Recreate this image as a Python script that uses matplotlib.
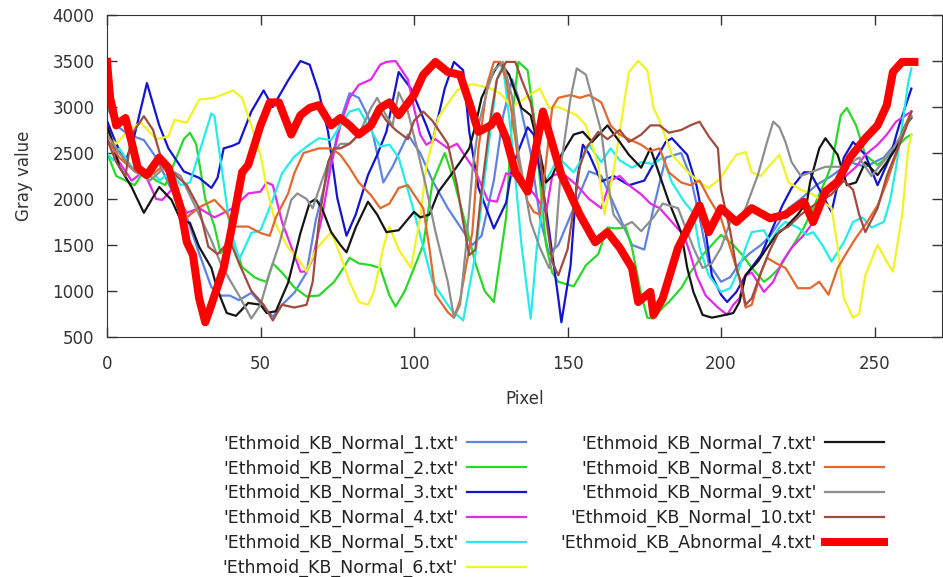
import matplotlib.pyplot as plt

# pixel profiles (x = pixel, y = gray value)
n1_x = [0, 3, 7, 12, 16, 21, 26, 30, 34, 37, 40, 43, 47, 51, 54, 57, 61, 65, 68, 72, 74, 76, 79, 82, 85, 87, 90, 93, 98, 102, 106, 111, 115, 119, 122, 126, 129, 132, 134, 138, 141, 144, 147, 152, 157, 161, 165, 169, 171, 175, 178, 182, 187, 190, 193, 196, 200, 203, 206, 209, 213, 216, 219, 222, 226, 231, 236, 242, 247, 253, 258, 262]
n1_y = [3000, 2800, 2700, 2640, 2450, 2100, 1800, 1410, 1040, 950, 950, 900, 980, 830, 720, 850, 980, 1200, 1770, 2300, 2550, 2850, 3150, 3100, 2900, 2650, 2180, 2350, 2700, 2500, 2200, 1900, 1700, 1500, 1600, 2200, 2900, 3300, 3100, 2500, 1800, 1400, 1500, 1900, 2300, 2250, 1950, 1650, 1500, 1450, 1900, 2450, 2500, 2250, 1800, 1300, 1100, 1150, 1300, 1400, 1500, 1600, 1750, 1900, 2000, 2150, 2250, 2400, 2350, 2450, 2650, 2900]

n2_x = [0, 3, 6, 9, 12, 16, 19, 22, 25, 27, 29, 32, 35, 37, 39, 41, 44, 48, 50, 52, 54, 57, 61, 65, 69, 74, 77, 79, 82, 86, 89, 92, 94, 97, 100, 103, 106, 110, 113, 117, 120, 123, 126, 130, 132, 134, 137, 139, 141, 143, 145, 147, 152, 156, 160, 163, 166, 169, 171, 174, 176, 178, 181, 183, 187, 190, 194, 197, 200, 204, 207, 210, 214, 216, 219, 223, 227, 230, 234, 236, 239, 241, 244, 247, 251, 254, 257, 260, 262]
n2_y = [2500, 2250, 2200, 2150, 2300, 2200, 2150, 2400, 2650, 2720, 2600, 2000, 1700, 1410, 1500, 1550, 1260, 1150, 1120, 1100, 1300, 1200, 1040, 940, 950, 1100, 1250, 1360, 1300, 1280, 1250, 950, 830, 1000, 1250, 1500, 2180, 2500, 2200, 1700, 1300, 1000, 880, 1800, 2900, 3490, 3400, 2910, 2200, 1500, 1200, 1100, 1050, 1280, 1400, 1690, 1680, 1690, 1470, 960, 710, 700, 820, 880, 1030, 1200, 1390, 1500, 1610, 1500, 1390, 1250, 1100, 1150, 1250, 1470, 1690, 1900, 2200, 2370, 2910, 2990, 2800, 2480, 2370, 2450, 2550, 2660, 2700]

n3_x = [0, 3, 6, 9, 13, 17, 20, 23, 25, 30, 34, 36, 38, 41, 43, 47, 51, 54, 59, 63, 66, 69, 72, 75, 78, 81, 85, 88, 91, 95, 99, 104, 106, 110, 113, 116, 118, 121, 126, 130, 132, 137, 139, 143, 147, 148, 151, 153, 155, 157, 161, 165, 170, 175, 182, 184, 189, 192, 195, 197, 200, 202, 205, 208, 213, 220, 223, 227, 229, 236, 240, 243, 247, 251, 255, 258, 262]
n3_y = [2850, 2600, 2400, 2700, 3260, 2800, 2550, 2400, 2300, 2230, 2120, 2230, 2550, 2580, 2610, 2950, 3180, 3000, 3290, 3500, 3460, 3160, 2730, 2010, 1600, 1830, 2260, 2480, 2730, 3380, 3200, 2800, 2620, 3200, 3490, 3400, 2730, 2120, 1680, 1960, 2350, 2780, 2700, 1900, 920, 660, 1280, 2180, 2590, 2490, 2190, 2250, 2150, 2200, 2620, 2660, 2480, 2150, 1640, 1170, 960, 880, 990, 1170, 1390, 1930, 2120, 2290, 2290, 1860, 2450, 2620, 2480, 2150, 2450, 2800, 3200]

n4_x = [0, 3, 8, 12, 16, 18, 21, 26, 30, 35, 41, 46, 50, 52, 54, 57, 61, 63, 65, 67, 70, 73, 76, 79, 82, 86, 89, 91, 94, 98, 100, 102, 104, 107, 111, 114, 117, 120, 124, 127, 130, 134, 139, 141, 143, 145, 148, 153, 157, 161, 164, 167, 170, 174, 177, 180, 184, 188, 190, 192, 195, 199, 202, 204, 206, 208, 210, 214, 217, 220, 223, 227, 229, 232, 236, 241, 244, 247, 251, 254, 257, 262]
n4_y = [2800, 2450, 2200, 2300, 2000, 1990, 2100, 1850, 1900, 1800, 1900, 2060, 2080, 2180, 2150, 1750, 1390, 1210, 1210, 1350, 1800, 2370, 2800, 3100, 3240, 3300, 3460, 3490, 3500, 3300, 2990, 2700, 2590, 2650, 2550, 2600, 2450, 2300, 1990, 1970, 2280, 2230, 2060, 1960, 1850, 2250, 2290, 2150, 2000, 1900, 2200, 2250, 2150, 2050, 1950, 1900, 1750, 1600, 1400, 1170, 950, 820, 740, 850, 920, 1170, 1200, 990, 1100, 1320, 1470, 1610, 1700, 1900, 2120, 2260, 2350, 2480, 2590, 2700, 2840, 2950]

n5_x = [0, 2, 4, 8, 11, 14, 17, 21, 24, 27, 30, 34, 35, 37, 40, 43, 47, 50, 54, 57, 61, 65, 69, 73, 76, 79, 82, 85, 89, 92, 95, 100, 106, 112, 116, 120, 124, 127, 129, 132, 135, 138, 140, 143, 147, 152, 155, 157, 161, 164, 167, 171, 174, 178, 181, 184, 188, 191, 193, 196, 200, 203, 206, 208, 210, 214, 216, 219, 221, 225, 228, 230, 233, 236, 240, 243, 246, 249, 253, 255, 257, 259, 261, 262]
n5_y = [2500, 2420, 2550, 2350, 2250, 2350, 2200, 2300, 2150, 2180, 2500, 2930, 2900, 2420, 1700, 1340, 1630, 1660, 1990, 2280, 2460, 2570, 2660, 2640, 2800, 2950, 2980, 2800, 2570, 2590, 2450, 1860, 1100, 800, 680, 1400, 2500, 3300, 3450, 2600, 1500, 700, 1470, 2200, 2450, 2290, 2450, 2590, 2400, 2550, 2420, 2340, 2400, 2380, 2450, 2180, 1970, 1850, 1470, 1170, 990, 1030, 1250, 1470, 1640, 1660, 1530, 1690, 1750, 1690, 1610, 1640, 1500, 1320, 1530, 1750, 1800, 1690, 1750, 1970, 2340, 2800, 3270, 3420]

n6_x = [0, 3, 7, 11, 16, 20, 22, 26, 30, 35, 41, 44, 47, 50, 52, 55, 59, 62, 65, 68, 73, 76, 79, 82, 85, 87, 90, 92, 95, 99, 102, 104, 108, 114, 119, 125, 128, 132, 139, 141, 144, 147, 153, 156, 160, 162, 165, 167, 170, 173, 176, 178, 180, 184, 189, 193, 196, 200, 202, 205, 208, 210, 213, 216, 219, 222, 226, 230, 236, 238, 240, 243, 245, 247, 251, 254, 256, 259, 261, 262]
n6_y = [2700, 2600, 2750, 2830, 2650, 2680, 2860, 2830, 3080, 3100, 3180, 3100, 2800, 2480, 2120, 1720, 1470, 1360, 1210, 1450, 1640, 1390, 1100, 880, 850, 1000, 1470, 1700, 1450, 1250, 1800, 2350, 2890, 3180, 3250, 3200, 3150, 3000, 3160, 3200, 2990, 3000, 2910, 2800, 2370, 1830, 2300, 2730, 3380, 3500, 3400, 2990, 2850, 2480, 2300, 2180, 2120, 2230, 2340, 2480, 2510, 2290, 2250, 2370, 2480, 2180, 2100, 2050, 1900, 1470, 920, 710, 750, 1170, 1500, 1320, 1210, 1830, 2550, 2700]

n7_x = [0, 2, 4, 8, 12, 15, 17, 21, 24, 27, 30, 34, 36, 39, 42, 46, 50, 52, 55, 59, 63, 66, 68, 70, 73, 76, 78, 81, 85, 88, 91, 95, 100, 102, 105, 108, 112, 115, 118, 120, 122, 126, 128, 131, 133, 135, 138, 141, 143, 145, 148, 152, 155, 158, 163, 167, 170, 174, 177, 180, 183, 187, 189, 191, 194, 197, 200, 204, 206, 208, 212, 215, 218, 221, 225, 228, 229, 232, 234, 238, 241, 244, 247, 251, 254, 257, 260, 262]
n7_y = [2800, 2600, 2350, 2130, 1850, 2020, 2130, 1990, 1770, 1740, 1480, 1250, 1010, 760, 730, 870, 850, 760, 780, 1090, 1630, 1960, 2000, 1900, 1640, 1500, 1420, 1690, 1970, 1830, 1640, 1660, 1860, 1800, 1830, 2080, 2260, 2400, 2550, 2800, 3100, 3380, 3490, 3350, 3160, 2990, 2910, 2500, 2180, 2250, 2480, 2700, 2730, 2620, 2800, 2620, 2480, 2340, 2550, 2260, 1970, 1640, 1250, 990, 740, 710, 730, 760, 880, 1170, 1320, 1470, 1610, 1690, 1830, 1970, 2180, 2550, 2660, 2480, 2150, 2180, 2400, 2260, 2400, 2550, 2800, 2880]

n8_x = [0, 4, 9, 14, 18, 22, 26, 30, 35, 39, 41, 46, 50, 53, 55, 59, 61, 64, 69, 73, 76, 79, 82, 86, 89, 92, 95, 98, 101, 103, 105, 107, 111, 113, 115, 117, 119, 121, 124, 126, 128, 130, 132, 134, 137, 139, 141, 143, 145, 147, 151, 154, 157, 161, 164, 167, 170, 174, 177, 180, 183, 187, 190, 193, 196, 200, 203, 206, 208, 210, 213, 215, 218, 221, 225, 229, 232, 235, 238, 241, 244, 247, 251, 254, 257, 260, 262]
n8_y = [2650, 2450, 2300, 2250, 2350, 2200, 1800, 1910, 1990, 1850, 1700, 1700, 1630, 1600, 1800, 2060, 2280, 2500, 2550, 2550, 2480, 2340, 2180, 2040, 1900, 1950, 2120, 2150, 2000, 1900, 1470, 960, 770, 710, 900, 1280, 1640, 2550, 3270, 3490, 3490, 3300, 2900, 2400, 1970, 1860, 1830, 2400, 2990, 3100, 3130, 3100, 3130, 3050, 2800, 2700, 2650, 2590, 2520, 2550, 2290, 2180, 2150, 2200, 2010, 1790, 1470, 1140, 820, 850, 1200, 1360, 1300, 1250, 1030, 1030, 1100, 960, 1250, 1420, 1580, 1720, 1930, 2180, 2480, 2800, 2950]

n9_x = [0, 4, 9, 14, 19, 24, 29, 34, 37, 40, 43, 47, 50, 53, 56, 60, 62, 65, 67, 70, 73, 76, 79, 82, 86, 88, 91, 93, 95, 98, 101, 104, 107, 111, 113, 115, 117, 119, 121, 124, 126, 129, 132, 134, 138, 141, 144, 146, 148, 151, 153, 156, 158, 161, 163, 165, 168, 171, 174, 178, 181, 186, 191, 194, 197, 200, 203, 206, 208, 212, 215, 217, 219, 221, 223, 226, 230, 234, 240, 245, 249, 254, 258, 262]
n9_y = [2700, 2500, 2300, 2200, 2350, 2250, 1900, 1550, 1300, 1120, 950, 700, 850, 1200, 1500, 1990, 2060, 2000, 1900, 2200, 2480, 2600, 2600, 2700, 2990, 3100, 2900, 2800, 3160, 2950, 2550, 2120, 1640, 1100, 710, 850, 1500, 2300, 2800, 3200, 3400, 3490, 3100, 2500, 1750, 1470, 1250, 1500, 2400, 3100, 3420, 3350, 3100, 2730, 2200, 1830, 1700, 1750, 1650, 1800, 1950, 1900, 1470, 1250, 1300, 1470, 1750, 1750, 1900, 2260, 2620, 2840, 2780, 2620, 2400, 2250, 2300, 2350, 2350, 2450, 2250, 2450, 2650, 2900]

n10_x = [0, 3, 6, 8, 12, 15, 18, 21, 26, 30, 33, 36, 40, 43, 47, 51, 54, 57, 61, 65, 67, 69, 72, 74, 76, 79, 82, 85, 88, 91, 94, 98, 100, 103, 106, 111, 114, 116, 118, 120, 122, 125, 127, 130, 133, 135, 138, 141, 143, 145, 147, 150, 152, 154, 156, 160, 163, 167, 170, 174, 177, 180, 183, 187, 190, 193, 196, 199, 200, 203, 205, 207, 208, 210, 213, 216, 219, 222, 226, 231, 236, 240, 243, 245, 247, 251, 254, 257, 260, 262]
n10_y = [2650, 2400, 2250, 2700, 2900, 2750, 2400, 2300, 2150, 1900, 1480, 1400, 1550, 1300, 1000, 850, 680, 850, 820, 850, 1100, 1750, 2400, 2550, 2550, 2600, 2700, 2800, 3000, 2850, 2750, 2650, 2850, 2950, 2850, 2600, 2150, 1750, 1390, 1450, 2100, 2900, 3300, 3490, 3490, 3300, 3050, 2500, 1800, 1320, 1170, 1450, 1900, 2350, 2550, 2730, 2650, 2750, 2620, 2700, 2800, 2800, 2720, 2750, 2800, 2840, 2680, 2550, 2100, 1650, 1250, 1030, 850, 920, 1200, 1450, 1650, 1700, 1830, 1950, 2050, 2200, 2100, 1830, 1640, 1900, 2250, 2500, 2750, 2950]

abn4_x = [0, 1, 3, 6, 8, 10, 13, 17, 20, 24, 26, 28, 30, 32, 34, 38, 41, 44, 46, 50, 53, 56, 60, 63, 66, 69, 73, 76, 79, 82, 86, 89, 92, 95, 100, 103, 107, 111, 115, 118, 121, 125, 127, 130, 133, 137, 142, 148, 154, 159, 163, 167, 171, 173, 177, 178, 181, 186, 193, 196, 200, 205, 210, 216, 221, 227, 230, 234, 238, 242, 247, 251, 254, 256, 259, 263]
abn4_y = [3490, 3100, 2800, 2880, 2620, 2340, 2260, 2450, 2340, 1900, 1530, 1390, 920, 660, 850, 1250, 1750, 2290, 2370, 2800, 3050, 3050, 2700, 2910, 2990, 3020, 2800, 2880, 2800, 2700, 2800, 2990, 3050, 2910, 3130, 3350, 3490, 3380, 3350, 3050, 2730, 2800, 2900, 2660, 2290, 2080, 2950, 2260, 1830, 1530, 1640, 1470, 1250, 880, 990, 740, 920, 1470, 1930, 1640, 1900, 1750, 1900, 1790, 1830, 1970, 1750, 2080, 2190, 2450, 2660, 2800, 3020, 3380, 3490, 3490]

labels = ["'Ethmoid_KB_Normal_%d.txt'" % i for i in range(1, 11)] + ["'Ethmoid_KB_Abnormal_4.txt'"]
colors = ['#5f82e0', '#2ad82a', '#1414d0', '#e428ec', '#24ecec', '#f2f224',
          '#151515', '#e2682e', '#8e8e8e', '#9e4c3e', '#ff0000']
xs = [n1_x, n2_x, n3_x, n4_x, n5_x, n6_x, n7_x, n8_x, n9_x, n10_x, abn4_x]
ys = [n1_y, n2_y, n3_y, n4_y, n5_y, n6_y, n7_y, n8_y, n9_y, n10_y, abn4_y]

fig = plt.figure(figsize=(9.43, 5.77), dpi=100)
ax = fig.add_axes([0.1135, 0.416, 0.8855, 0.558])

handles = []
for x, y, c, lab in zip(xs, ys, colors, labels):
    lw = 5.8 if c == '#ff0000' else 1.6
    line, = ax.plot(x, y, color=c, lw=lw, label=lab, solid_joinstyle='round')
    handles.append(line)

ax.set_xlim(0, 272)
ax.set_ylim(500, 4000)
ax.set_xticks(range(0, 251, 50))
ax.set_yticks(range(500, 4001, 500))
ax.tick_params(direction='in', length=7, width=1, top=True, right=True,
               labelsize=12, labelcolor='#333333', color='#333333')
ax.tick_params(axis='x', pad=13)
ax.tick_params(axis='y', pad=9)
for s in ax.spines.values():
    s.set_color('#333333')
ax.set_xlabel('Pixel', fontsize=12, color='#333333', labelpad=12)
ax.set_ylabel('Gray value', fontsize=12, color='#333333', labelpad=14)

fig.legend(handles, labels, loc='upper center', bbox_to_anchor=(0.587, 0.262),
           ncol=2, markerfirst=False, frameon=False, fontsize=12.5,
           handlelength=3.4, handletextpad=0.5, columnspacing=2.0,
           labelspacing=0.38, borderpad=0, labelcolor='#222222')

fig.savefig('out.png', dpi=100)
